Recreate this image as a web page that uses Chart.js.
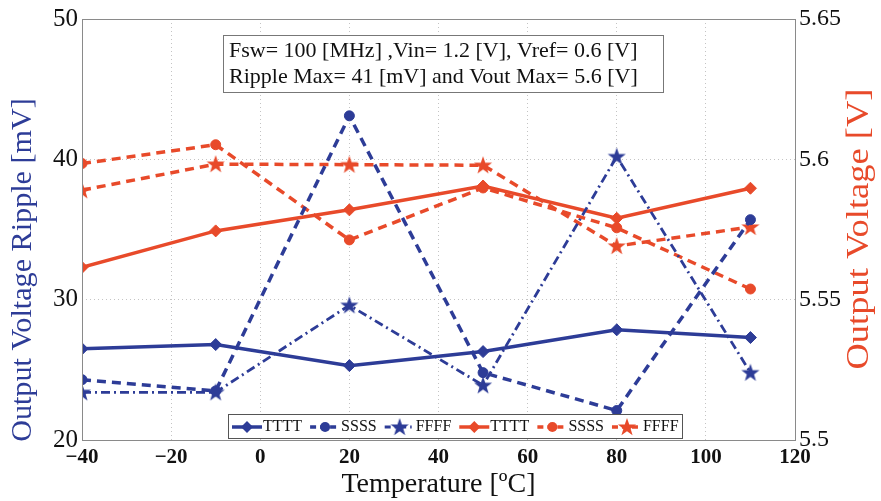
<!DOCTYPE html>
<html>
<head>
<meta charset="utf-8">
<script src="https://cdn.jsdelivr.net/npm/chart.js@4.4.1/dist/chart.umd.min.js"></script>
<style>
  html, body { margin: 0; padding: 0; background: #fff; }
  #chart { display: block; }
</style>
</head>
<body>
<canvas id="chart" width="881" height="501"></canvas>
<script>
  const temps = [-40, -10, 20, 50, 80, 110];

  // left axis: output voltage ripple [mV]
  const rippleTTTT = [26.5, 26.8, 25.3, 26.3, 27.85, 27.3];
  const rippleSSSS = [24.3, 23.5, 43.1, 24.8, 22.1, 35.7];
  const rippleFFFF = [23.4, 23.4, 29.6, 23.9, 40.2, 24.8];

  // right axis: output voltage [V]
  const voutTTTT = [5.5615, 5.5745, 5.582, 5.5905, 5.579, 5.5897];
  const voutSSSS = [5.5985, 5.6052, 5.5713, 5.5898, 5.5756, 5.5538];
  const voutFFFF = [5.589, 5.5983, 5.5981, 5.5979, 5.5691, 5.5759];

  const cornerNames = ["TTTT", "SSSS", "FFFF"];
  const infoLines = [
    "Fsw= 100 [MHz] ,Vin= 1.2 [V], Vref= 0.6 [V]",
    "Ripple Max= 41 [mV] and Vout Max= 5.6 [V]",
  ];

  const BLUE = "#2d3c97";
  const RED = "#e84a2a";
  const FONT = "'Liberation Serif', 'DejaVu Serif', serif";

  function makeStar(color) {
    const c = document.createElement("canvas");
    c.width = 20;
    c.height = 20;
    const g = c.getContext("2d");
    g.fillStyle = color;
    g.beginPath();
    for (let i = 0; i < 10; i++) {
      const r = i % 2 === 0 ? 9.5 : 3.8;
      const a = -Math.PI / 2 + (i * Math.PI) / 5;
      const px = 10 + r * Math.cos(a);
      const py = 10.5 + r * Math.sin(a);
      if (i === 0) g.moveTo(px, py);
      else g.lineTo(px, py);
    }
    g.closePath();
    g.fill();
    return c;
  }

  function pts(ys) {
    return temps.map((t, i) => ({ x: t, y: ys[i] }));
  }

  function series(label, ys, axis, color, kind) {
    const ds = {
      label,
      data: pts(ys),
      yAxisID: axis,
      borderColor: color,
      backgroundColor: color,
      pointBorderColor: color,
      pointBackgroundColor: color,
      borderWidth: 3.5,
      pointBorderWidth: 1,
      tension: 0,
      fill: false,
    };
    if (kind === "T") {
      ds.pointStyle = "rectRot";
      ds.pointRadius = 6;
    } else if (kind === "S") {
      ds.pointStyle = "circle";
      ds.pointRadius = 5;
      ds.borderDash = [9, 6];
    } else {
      ds.pointStyle = makeStar(color);
      ds.pointRadius = 9;
      if (color === BLUE) {
        ds.borderDash = [9, 4, 2, 4];
        ds.borderWidth = 2.8;
      } else {
        ds.borderDash = [9, 6];
      }
    }
    return ds;
  }

  const datasets = [
    series(cornerNames[0], rippleTTTT, "y", BLUE, "T"),
    series(cornerNames[1], rippleSSSS, "y", BLUE, "S"),
    series(cornerNames[2], rippleFFFF, "y", BLUE, "F"),
    series(cornerNames[0], voutTTTT, "y1", RED, "T"),
    series(cornerNames[1], voutSSSS, "y1", RED, "S"),
    series(cornerNames[2], voutFFFF, "y1", RED, "F"),
  ];

  function drawMarker(ctx, ds, x, y) {
    if (typeof ds.pointStyle !== "string") {
      ctx.drawImage(ds.pointStyle, x - 10, y - 10);
      return;
    }
    ctx.fillStyle = ds.pointBackgroundColor;
    ctx.beginPath();
    if (ds.pointStyle === "circle") {
      ctx.arc(x, y, ds.pointRadius, 0, Math.PI * 2);
    } else {
      const r = ds.pointRadius;
      ctx.moveTo(x, y - r);
      ctx.lineTo(x + r, y);
      ctx.lineTo(x, y + r);
      ctx.lineTo(x - r, y);
      ctx.closePath();
    }
    ctx.fill();
  }

  // vertical title, reading bottom to top, stretched along its length
  function sideTitle(ctx, text, color, size, stretch, cx, cy) {
    ctx.save();
    ctx.translate(cx, cy);
    ctx.rotate(-Math.PI / 2);
    ctx.scale(stretch, 1);
    ctx.textAlign = "center";
    ctx.textBaseline = "middle";
    ctx.fillStyle = color;
    ctx.font = size + "px " + FONT;
    ctx.fillText(text, 0, 0);
    ctx.restore();
  }

  const overlay = {
    id: "overlay",
    afterDraw(chart) {
      const ctx = chart.ctx;
      const a = chart.chartArea;
      ctx.save();

      // frame
      ctx.strokeStyle = "#8a8a8a";
      ctx.lineWidth = 1;
      ctx.setLineDash([]);
      ctx.strokeRect(a.left + 0.5, a.top + 0.5, a.right - a.left, a.bottom - a.top);

      // info box
      ctx.fillStyle = "#fff";
      ctx.fillRect(223, 35, 440, 57);
      ctx.strokeStyle = "#777";
      ctx.strokeRect(223.5, 35.5, 440, 57);
      ctx.fillStyle = "#111";
      ctx.font = "22px " + FONT;
      ctx.textBaseline = "middle";
      ctx.textAlign = "left";
      ctx.fillText(infoLines[0], 229, 51);
      ctx.fillText(infoLines[1], 229, 77);

      // legend
      ctx.font = "16px " + FONT;
      const lx = 228, ly = 414, lh = 24;
      ctx.fillStyle = "#fff";
      ctx.fillRect(lx, ly, 454, lh);
      ctx.strokeStyle = "#555";
      ctx.strokeRect(lx + 0.5, ly + 0.5, 454, lh);
      let x = lx + 4;
      const cy = ly + lh / 2 + 1;
      chart.data.datasets.forEach((ds) => {
        ctx.strokeStyle = ds.borderColor;
        ctx.lineWidth = ds.borderWidth;
        ctx.setLineDash(ds.borderDash ? [6, 4].concat(ds.borderDash.length > 2 ? [1.5, 4] : []) : []);
        ctx.beginPath();
        ctx.moveTo(x, cy);
        ctx.lineTo(x + 30, cy);
        ctx.stroke();
        ctx.setLineDash([]);
        drawMarker(ctx, ds, x + 15, cy);
        ctx.fillStyle = "#111";
        ctx.fillText(ds.label, x + 31, cy);
        x += 31 + ctx.measureText(ds.label).width + 8;
      });
      ctx.restore();

      sideTitle(ctx, chart.scales.y.options.title.text, BLUE, 29, 1.04, 23, 270);
      sideTitle(ctx, chart.scales.y1.options.title.text, RED, 32, 1.14, 860, 229);
    },
  };

  new Chart(document.getElementById("chart"), {
    type: "line",
    data: { datasets },
    plugins: [overlay],
    options: {
      responsive: false,
      animation: false,
      layout: { padding: { top: 18, left: 0, right: 0, bottom: 0 } },
      plugins: {
        legend: { display: false },
        tooltip: { enabled: false },
      },
      scales: {
        x: {
          type: "linear",
          min: -40,
          max: 120,
          afterFit: (s) => { s.height = 61; },
          ticks: {
            stepSize: 20,
            color: "#111",
            padding: 5,
            font: { family: FONT, size: 21, weight: "bold" },
            callback: (v) => (v < 0 ? "\u2212" + Math.abs(v) : String(v)),
          },
          grid: { color: "#c4c4c4", drawTicks: false },
          border: { display: false, dash: [1, 3] },
          title: {
            display: true,
            text: "Temperature [\u00baC]",
            color: "#111",
            padding: 0,
            font: { family: FONT, size: 28, lineHeight: 1.2 },
          },
        },
        y: {
          position: "left",
          min: 20,
          max: 50,
          afterFit: (s) => { s.width = 82; },
          ticks: {
            stepSize: 10,
            color: "#111",
            padding: 4,
            font: { family: FONT, size: 25 },
          },
          grid: { color: "#c4c4c4", drawTicks: false },
          border: { display: false, dash: [1, 3] },
          title: {
            display: false,
            text: "Output Voltage Ripple [mV]",
          },
        },
        y1: {
          position: "right",
          min: 5.5,
          max: 5.65,
          afterFit: (s) => { s.width = 86; },
          ticks: {
            stepSize: 0.05,
            color: "#111",
            padding: 4,
            font: { family: FONT, size: 24 },
            callback: (v) => String(Math.round(v * 100) / 100),
          },
          grid: { display: false, drawTicks: false },
          border: { display: false },
          title: {
            display: false,
            text: "Output Voltage [V]",
          },
        },
      },
    },
  });
</script>
</body>
</html>
